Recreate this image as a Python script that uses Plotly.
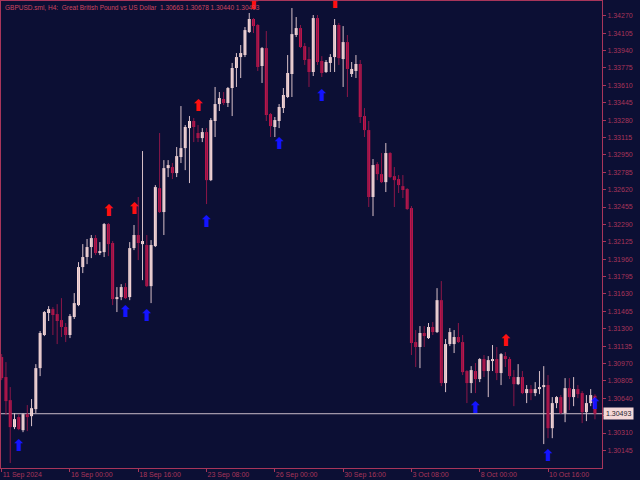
import plotly.graph_objects as go

# ---------------- data (H4 bars, GBPUSD) ----------------
opens = [1.31031, 1.30841, 1.30622, 1.30366, 1.30461, 1.30337, 1.30489, 1.30470, 1.30537, 1.30926,
         1.31240, 1.31449, 1.31486, 1.31439, 1.31382, 1.31316, 1.31240, 1.31411, 1.31524, 1.31885,
         1.31980, 1.32075, 1.32160, 1.32018, 1.32027, 1.32293, 1.32113, 1.31581, 1.31600, 1.31695,
         1.31600, 1.32065, 1.32189, 1.32103, 1.32094, 1.31704, 1.32084, 1.32634, 1.32407, 1.32824,
         1.32834, 1.32777, 1.32929, 1.33014, 1.33204, 1.33271, 1.33157, 1.33109, 1.33166, 1.32710,
         1.33271, 1.33432, 1.33480, 1.33442, 1.33584, 1.33774, 1.33878, 1.33897, 1.34115, 1.34239,
         1.34182, 1.33793, 1.33963, 1.33337, 1.33214, 1.33271, 1.33394, 1.33499, 1.33717, 1.34087,
         1.34153, 1.33982, 1.33859, 1.33736, 1.34248, 1.33841, 1.33736, 1.33822, 1.33878, 1.34182,
         1.33859, 1.34020, 1.33717, 1.33746, 1.33812, 1.33318, 1.33185, 1.32550, 1.32862, 1.32767,
         1.32691, 1.32967, 1.32748, 1.32720, 1.32653, 1.32625, 1.32445, 1.31173, 1.31126, 1.31259,
         1.31211, 1.31316, 1.31268, 1.31571, 1.30784, 1.31154, 1.31154, 1.31221, 1.31173, 1.30898,
         1.30784, 1.30898, 1.30822, 1.31012, 1.30898, 1.30993, 1.31012, 1.30879, 1.31040, 1.31012,
         1.30841, 1.30774, 1.30841, 1.30689, 1.30727, 1.30689, 1.30727, 1.30746, 1.30765, 1.30356,
         1.30594, 1.30651, 1.30499, 1.30736, 1.30651, 1.30727, 1.30689, 1.30508, 1.30594, 1.30663]

highs = [1.31059, 1.30983, 1.30746, 1.30499, 1.30489, 1.30499, 1.30575, 1.30632, 1.30964, 1.31278,
         1.31468, 1.31514, 1.31505, 1.31533, 1.31590, 1.31354, 1.31439, 1.31638, 1.31932, 1.32103,
         1.32151, 1.32189, 1.32189, 1.32122, 1.32303, 1.32303, 1.32132, 1.31695, 1.31723, 1.31733,
         1.32122, 1.32284, 1.32550, 1.32986, 1.32189, 1.32141, 1.32663, 1.33157, 1.32900, 1.32900,
         1.32872, 1.33024, 1.33413, 1.33233, 1.33318, 1.33299, 1.33233, 1.33204, 1.33204, 1.33299,
         1.33594, 1.33546, 1.33546, 1.33594, 1.33822, 1.33916, 1.33992, 1.34163, 1.34296, 1.34248,
         1.34191, 1.33973, 1.34125, 1.33347, 1.33309, 1.33432, 1.33584, 1.33897, 1.34343, 1.34258,
         1.34182, 1.34011, 1.33973, 1.34277, 1.34277, 1.33887, 1.33850, 1.33906, 1.34239, 1.34201,
         1.34172, 1.34087, 1.33831, 1.33897, 1.33850, 1.33394, 1.33271, 1.32910, 1.32881, 1.32967,
         1.33062, 1.32976, 1.32834, 1.32758, 1.32758, 1.32634, 1.32464, 1.31287, 1.31325, 1.31325,
         1.31354, 1.31363, 1.31685, 1.31752, 1.31202, 1.31306, 1.31287, 1.31354, 1.31240, 1.30907,
         1.30945, 1.30974, 1.31021, 1.31050, 1.31040, 1.31145, 1.31126, 1.31069, 1.31078, 1.31031,
         1.30907, 1.30964, 1.30898, 1.30765, 1.30765, 1.30793, 1.30898, 1.30945, 1.30860, 1.30651,
         1.30660, 1.30670, 1.30831, 1.30831, 1.30841, 1.30765, 1.30708, 1.30670, 1.30727, 1.30678]

lows = [1.30812, 1.30480, 1.30025, 1.30347, 1.30337, 1.30318, 1.30328, 1.30375, 1.30499, 1.30850,
        1.31230, 1.31373, 1.31240, 1.31154, 1.31221, 1.31173, 1.31211, 1.31392, 1.31514, 1.31828,
        1.31913, 1.31970, 1.31999, 1.31999, 1.31980, 1.31989, 1.31524, 1.31458, 1.31571, 1.31581,
        1.31571, 1.32046, 1.31951, 1.31761, 1.31695, 1.31543, 1.32075, 1.32398, 1.32189, 1.32739,
        1.32720, 1.32739, 1.32872, 1.32805, 1.32682, 1.33071, 1.33071, 1.33071, 1.32483, 1.32701,
        1.33119, 1.33366, 1.33423, 1.33404, 1.33318, 1.33594, 1.33679, 1.33878, 1.34106, 1.34106,
        1.33746, 1.33632, 1.33271, 1.33119, 1.33119, 1.33204, 1.33347, 1.33489, 1.33499, 1.34068,
        1.33963, 1.33803, 1.33594, 1.33698, 1.33803, 1.33689, 1.33727, 1.33736, 1.33736, 1.33803,
        1.33594, 1.33499, 1.33689, 1.33679, 1.33252, 1.33119, 1.32455, 1.32369, 1.32710, 1.32682,
        1.32597, 1.32729, 1.32455, 1.32588, 1.32540, 1.32426, 1.31050, 1.30936, 1.30926, 1.31126,
        1.31202, 1.31240, 1.31259, 1.30755, 1.30698, 1.31135, 1.31069, 1.31164, 1.30860, 1.30594,
        1.30689, 1.30689, 1.30793, 1.30841, 1.30651, 1.30898, 1.30812, 1.30765, 1.30936, 1.30822,
        1.30565, 1.30765, 1.30679, 1.30594, 1.30622, 1.30660, 1.30679, 1.30205, 1.30261, 1.30261,
        1.30546, 1.30489, 1.30413, 1.30527, 1.30565, 1.30641, 1.30404, 1.30423, 1.30565, 1.30440]

closes = [1.30831, 1.30613, 1.30366, 1.30442, 1.30347, 1.30489, 1.30461, 1.30546, 1.30926, 1.31259,
          1.31458, 1.31486, 1.31430, 1.31373, 1.31316, 1.31240, 1.31420, 1.31543, 1.31885, 1.31980,
          1.32075, 1.32160, 1.32018, 1.32037, 1.32293, 1.32103, 1.31581, 1.31600, 1.31695, 1.31590,
          1.32065, 1.32189, 1.32113, 1.32132, 1.31704, 1.32094, 1.32644, 1.32407, 1.32824, 1.32853,
          1.32777, 1.32938, 1.33014, 1.33214, 1.33271, 1.33214, 1.33109, 1.33166, 1.32710, 1.33280,
          1.33432, 1.33489, 1.33442, 1.33584, 1.33774, 1.33878, 1.33916, 1.34134, 1.34239, 1.34172,
          1.33784, 1.33963, 1.33328, 1.33223, 1.33280, 1.33404, 1.33518, 1.33727, 1.34096, 1.34153,
          1.33973, 1.33850, 1.33736, 1.34248, 1.33831, 1.33727, 1.33831, 1.33878, 1.34182, 1.33868,
          1.34020, 1.33765, 1.33765, 1.33812, 1.33309, 1.33185, 1.32550, 1.32853, 1.32767, 1.32691,
          1.32967, 1.32739, 1.32710, 1.32663, 1.32616, 1.32436, 1.31164, 1.31126, 1.31259, 1.31230,
          1.31316, 1.31268, 1.31571, 1.30784, 1.31154, 1.31268, 1.31221, 1.31173, 1.30888, 1.30784,
          1.30907, 1.30822, 1.31012, 1.30898, 1.31002, 1.31012, 1.30879, 1.31059, 1.31012, 1.30850,
          1.30774, 1.30841, 1.30689, 1.30727, 1.30689, 1.30727, 1.30746, 1.30765, 1.30356, 1.30594,
          1.30651, 1.30499, 1.30736, 1.30651, 1.30727, 1.30679, 1.30508, 1.30594, 1.30670, 1.30493]

# signal arrows (bar index, price)
blue_idx = [4, 29, 34, 48, 65, 75, 111, 128, 139]
blue_price = [1.30177, 1.31449, 1.31411, 1.32303, 1.33043, 1.33499, 1.30537, 1.30082, 1.30575]
red_idx = [25, 31, 46, 59, 73, 78, 118]
red_price = [1.32407, 1.32426, 1.33404, 1.34372, 1.34447, 1.34381, 1.31173]

# axis labels
x_tick_idx = [0, 16, 32, 48, 64, 80, 96, 112, 128]
x_tick_text = ["11 Sep 2024", "16 Sep 00:00", "18 Sep 16:00", "23 Sep 08:00", "26 Sep 00:00",
               "30 Sep 16:00", "3 Oct 08:00", "8 Oct 00:00", "10 Oct 16:00"]
y_tick_vals = [1.34270, 1.34105, 1.33940, 1.33775, 1.33610, 1.33445, 1.33280, 1.33115, 1.32950,
               1.32785, 1.32620, 1.32455, 1.32290, 1.32125, 1.31960, 1.31795, 1.31630, 1.31465,
               1.31300, 1.31135, 1.30970, 1.30805, 1.30640, 1.30475, 1.30310, 1.30145]
title_text = "GBPUSD.sml, H4:  Great British Pound vs US Dollar  1.30663 1.30678 1.30440 1.30493"

# ---------------- styling ----------------
BG = "#0c0f34"
AXIS = "#a8355a"
BULL = "#f6d5d5"
BEAR = "#c3164c"
BULL_WICK = "#d8c0c8"
BEAR_WICK = "#8c1748"
FONT = "Liberation Sans"

n = len(opens)
idx = list(range(n))
MIN_BODY = 0.00009

bull = [i for i in idx if closes[i] >= opens[i]]
bear = [i for i in idx if closes[i] < opens[i]]


def wick_xy(sel):
    xs, ys = [], []
    for i in sel:
        xs += [i, i, None]
        ys += [lows[i], highs[i], None]
    return xs, ys


fig = go.Figure()
for sel, col in ((bull, BULL_WICK), (bear, BEAR_WICK)):
    wx, wy = wick_xy(sel)
    fig.add_trace(go.Scatter(x=wx, y=wy, mode="lines", line=dict(color=col, width=1),
                             hoverinfo="skip", connectgaps=False))

for sel, col in ((bull, BULL), (bear, BEAR)):
    fig.add_trace(go.Bar(
        x=sel,
        base=[min(opens[i], closes[i]) for i in sel],
        y=[max(abs(closes[i] - opens[i]), MIN_BODY) for i in sel],
        width=0.7, marker=dict(color=col, line=dict(width=0)), hoverinfo="skip"))

ARROW = "<b>⬆</b>"
fig.add_trace(go.Scatter(x=blue_idx, y=blue_price, mode="text", text=[ARROW] * len(blue_idx),
                         textfont=dict(color="#1414ff", size=16, family="DejaVu Sans"),
                         textposition="middle center", hoverinfo="skip"))
fig.add_trace(go.Scatter(x=red_idx, y=red_price, mode="text", text=[ARROW] * len(red_idx),
                         textfont=dict(color="#ff1010", size=16, family="DejaVu Sans"),
                         textposition="middle center", hoverinfo="skip"))

last = closes[-1]
fig.add_shape(type="line", xref="paper", x0=0, x1=1, yref="y", y0=last, y1=last,
              line=dict(color="#c9bcc8", width=1), layer="below")
fig.add_annotation(xref="paper", x=1, yref="y", y=last, text=f"{last:.5f}", showarrow=False,
                   xanchor="left", xshift=1, bgcolor="#f4d8d8", borderpad=2,
                   font=dict(color="#1c1c2c", size=7, family=FONT))
fig.add_annotation(xref="paper", x=0, yref="paper", y=1, text=title_text, showarrow=False,
                   xanchor="left", yanchor="top", xshift=2, yshift=-1,
                   font=dict(color="#cc4660", size=6.5, family=FONT))

fig.update_layout(
    width=640, height=480,
    margin=dict(l=1, r=38, t=1, b=12),
    paper_bgcolor=BG, plot_bgcolor=BG,
    showlegend=False, barmode="overlay", hovermode=False,
    font=dict(family=FONT, size=7, color=AXIS),
    xaxis=dict(range=[-0.16, 140.65], tickvals=x_tick_idx, ticktext=x_tick_text,
               showgrid=False, zeroline=False, showline=True, mirror=True,
               linecolor=AXIS, linewidth=1, ticks="outside", ticklen=3, tickcolor=AXIS,
               ticklabelposition="outside right", automargin=False,
               tickfont=dict(size=7, color=AXIS, family=FONT)),
    yaxis=dict(range=[1.29978, 1.34410], side="right", tickvals=y_tick_vals,
               ticktext=[f"{v:.5f}" for v in y_tick_vals],
               showgrid=False, zeroline=False, showline=True, mirror=True,
               linecolor=AXIS, linewidth=1, ticks="outside", ticklen=3, tickcolor=AXIS,
               automargin=False, tickfont=dict(size=7, color=AXIS, family=FONT)),
)

fig.write_html("out.html", config={"displayModeBar": False},
               post_script="document.body.style.margin='0';document.body.style.background='" + BG + "';")
